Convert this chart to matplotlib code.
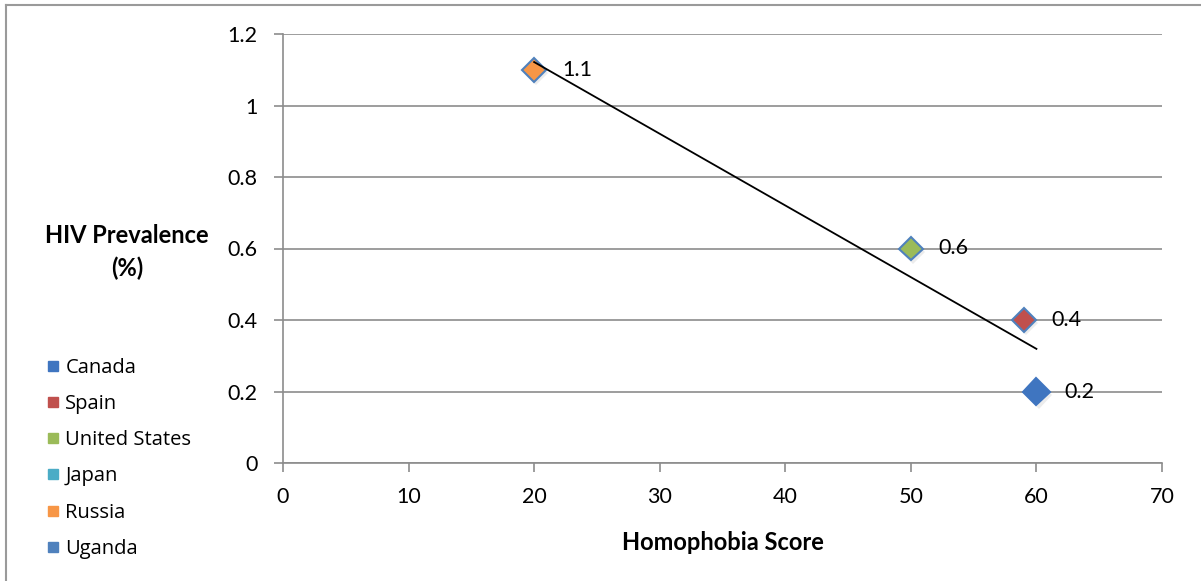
import numpy as np
import matplotlib.pyplot as plt
from matplotlib.lines import Line2D
from matplotlib.font_manager import FontProperties
import matplotlib.patheffects as pe

countries = ['Canada', 'Spain', 'United States', 'Japan', 'Russia', 'Uganda']
colors = ['#3F75C0', '#C0504D', '#9BBB59', '#4BACC6', '#F79646', '#4F81BD']
# points visible on the chart (Japan and Uganda show no marker)
pt_names = ['Russia', 'United States', 'Spain', 'Canada']
homophobia = [20, 50, 59, 60]
hiv = [1.1, 0.6, 0.4, 0.2]

plt.rcParams['font.family'] = ['Lato', 'DejaVu Sans']

fig = plt.figure(figsize=(12.01, 5.81), dpi=100)
ax = fig.add_axes([283/1201, 1-463/581, (1162-283)/1201, (463-34)/581])

shadow = [pe.SimplePatchShadow(offset=(1.5, -2.5), alpha=0.15, shadow_rgbFace='gray'), pe.Normal()]
for name, x, y in zip(pt_names, homophobia, hiv):
    c = colors[countries.index(name)]
    big = name == 'Canada'
    ax.plot(x, y, marker='D', ms=14 if big else 12, mfc=c,
            mec=c if big else '#4F81BD', mew=1.5, zorder=4, path_effects=shadow)
    ax.annotate(f'{y:g}', (x, y), xytext=(20, 0), textcoords='offset points',
                va='center', ha='left', fontsize=15.5, zorder=5)

# linear trendline
k, b = np.polyfit(homophobia, hiv, 1)
xt = np.array([min(homophobia), max(homophobia)])
ax.plot(xt, k * xt + b, color='black', lw=1.3, zorder=5)

ax.set_xlim(0, 70)
ax.set_ylim(0, 1.2)
ax.set_xticks(range(0, 71, 10))
ax.set_yticks([0, 0.2, 0.4, 0.6, 0.8, 1, 1.2])
ax.set_yticklabels(['0', '0.2', '0.4', '0.6', '0.8', '1', '1.2'])
ax.yaxis.grid(True, color='#8c8c8c', lw=1.2)
ax.set_axisbelow(True)
for s in ['top', 'right']:
    ax.spines[s].set_visible(False)
for s in ['left', 'bottom']:
    ax.spines[s].set_color('#8c8c8c')
    ax.spines[s].set_linewidth(1.2)
ax.tick_params(labelsize=15.5, length=6.5, width=1.2, color='#8c8c8c')
ax.tick_params(axis='y', pad=12)
ax.tick_params(axis='x', pad=11)

ax.set_xlabel('Homophobia Score', fontsize=17, fontweight='bold', labelpad=17)
fig.text(127/1201, 1-252/581, 'HIV Prevalence\n(%)', ha='center', va='center',
         fontsize=17, fontweight='bold', linespacing=1.45)

handles = [Line2D([], [], marker='s', ls='none', ms=7, mfc=c, mec=c) for c in colors]
fig.legend(handles, countries, loc='upper left', bbox_to_anchor=(25/1201, 1-340/581),
           frameon=False, handletextpad=0.1, labelspacing=0.8, handlelength=1.0,
           prop=FontProperties(family=['Open Sans', 'DejaVu Sans'], size=14.5))

# outer chart frame
fig.add_artist(Line2D([6/1201, 6/1201], [0, 1-5/581], color='#9a9a9a', lw=1.5))
fig.add_artist(Line2D([6/1201, 1], [1-5/581, 1-5/581], color='#9a9a9a', lw=1.5))

fig.savefig('out.png', dpi=100)
